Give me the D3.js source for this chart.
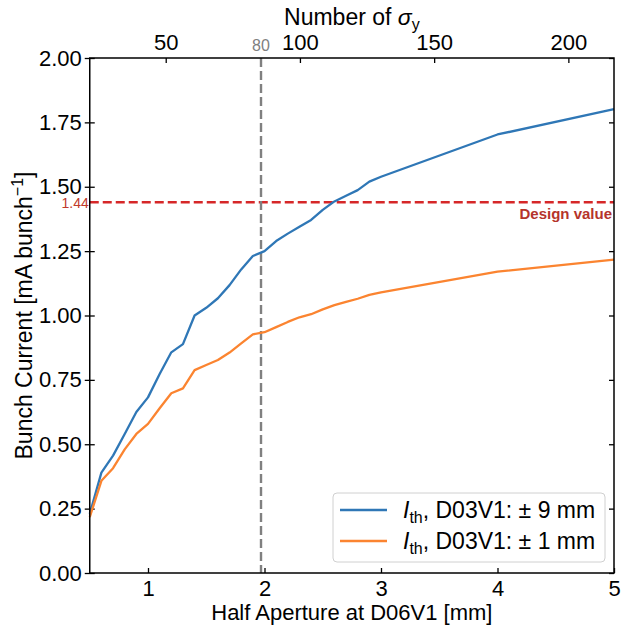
<!DOCTYPE html>
<html>
<head>
<meta charset="utf-8">
<script src="https://cdn.jsdelivr.net/npm/d3@7"></script>
<style>
  body { margin: 0; background: #fff; }
  svg { display: block; font-family: "Liberation Sans", Arial, sans-serif; }
  .tick text { font-size: 22px; fill: #000; }
  .axis path, .axis line { stroke: #000; }
</style>
</head>
<body>
<div id="chart"></div>
<script>
'use strict';

// half aperture at D06V1 [mm]
var aperture = [0.5, 0.6, 0.7, 0.8, 0.9, 1.0, 1.1, 1.2, 1.3, 1.4, 1.5, 1.6, 1.7, 1.8, 1.9,
  2.0, 2.1, 2.2, 2.3, 2.4, 2.5, 2.6, 2.7, 2.8, 2.9, 3.0, 4.0, 5.0];
// threshold current, D03V1 +-9 mm
var ith9 = [0.23, 0.39, 0.456, 0.54, 0.625, 0.682, 0.773, 0.857, 0.889, 1.000, 1.030, 1.067, 1.118,
  1.179, 1.231, 1.250, 1.289, 1.318, 1.345, 1.371, 1.410, 1.443, 1.465, 1.487, 1.520, 1.539, 1.703, 1.801];
// threshold current, D03V1 +-1 mm
var ith1 = [0.217, 0.358, 0.407, 0.480, 0.540, 0.579, 0.640, 0.698, 0.717, 0.788, 0.808, 0.827, 0.856,
  0.892, 0.927, 0.935, 0.955, 0.975, 0.993, 1.005, 1.024, 1.040, 1.053, 1.065, 1.080, 1.090, 1.170, 1.217];

var seriesNames = ["± 9 mm", "± 1 mm"];
var xTicks = [1, 2, 3, 4, 5];
var yTicks = [0, 0.25, 0.5, 0.75, 1.0, 1.25, 1.5, 1.75, 2.0];
var sigmaTicks = [50, 100, 150, 200];
var sigmaPerMm = 43.4;      // number of sigma_y per mm of half aperture
var designValue = 1.44;
var markAperture = 1.97;    // vertical marker
var markLabel = "80";

var margin = { top: 58, right: 7, bottom: 54, left: 89.75 },
  width = 621 - margin.left - margin.right,
  height = 627 - margin.top - margin.bottom;

var colors = ["#2f77b6", "#fb8430"];

var svg = d3.select("#chart").append("svg")
  .attr("width", 621)
  .attr("height", 627);

var g = svg.append("g")
  .attr("transform", "translate(" + margin.left + "," + margin.top + ")");

var x = d3.scaleLinear().domain([0.5, 5]).range([0, width]);
var y = d3.scaleLinear().domain([0, 2]).range([height, 0]);
var xTop = d3.scaleLinear().domain([0.5 * sigmaPerMm, 5 * sigmaPerMm]).range([0, width]);

// axes
g.append("g")
  .attr("class", "axis")
  .attr("transform", "translate(0," + height + ")")
  .call(d3.axisBottom(x).tickValues(xTicks).tickFormat(d3.format("d")).tickSizeInner(-5).tickSizeOuter(0).tickPadding(7));

g.append("g")
  .attr("class", "axis")
  .call(d3.axisLeft(y).tickValues(yTicks).tickFormat(d3.format(".2f")).tickSizeInner(5).tickSizeOuter(0).tickPadding(3))
  .selectAll(".tick line").attr("x2", 5).attr("x1", -5);

g.append("g")
  .attr("class", "axis")
  .attr("transform", "translate(" + width + ",0)")
  .call(d3.axisRight(y).tickValues(yTicks).tickFormat("").tickSizeInner(-5).tickSizeOuter(0));

g.append("g")
  .attr("class", "axis")
  .call(d3.axisTop(xTop).tickValues(sigmaTicks).tickSizeInner(-5).tickSizeOuter(0).tickPadding(8));

g.selectAll(".axis .domain").remove();
g.selectAll(".axis .tick line").attr("stroke-width", 1.3);

// design value line
g.append("line")
  .attr("x1", 0).attr("x2", width)
  .attr("y1", y(designValue)).attr("y2", y(designValue))
  .attr("stroke", "#d62728")
  .attr("stroke-width", 2.4)
  .attr("stroke-dasharray", "9,4");

g.append("text")
  .attr("x", -1)
  .attr("y", y(designValue) + 1)
  .attr("dy", "0.35em")
  .attr("text-anchor", "end")
  .attr("fill", "#c0392b")
  .style("font-size", "14px")
  .text(d3.format(".2f")(designValue));

g.append("text")
  .attr("x", width - 2)
  .attr("y", y(designValue) + 17)
  .attr("text-anchor", "end")
  .attr("fill", "#b5342b")
  .style("font-size", "15px")
  .style("font-weight", "bold")
  .text("Design value");

// vertical marker
g.append("line")
  .attr("x1", x(markAperture)).attr("x2", x(markAperture))
  .attr("y1", 0).attr("y2", height)
  .attr("stroke", "#808080")
  .attr("stroke-width", 2.4)
  .attr("stroke-dasharray", "9,4");

g.append("text")
  .attr("x", x(markAperture))
  .attr("y", -7)
  .attr("text-anchor", "middle")
  .attr("fill", "#808080")
  .style("font-size", "16px")
  .text(markLabel);

// curves
var line = d3.line()
  .x(function (d) { return x(d[0]); })
  .y(function (d) { return y(d[1]); });

[ith9, ith1].forEach(function (vals, i) {
  g.append("path")
    .datum(aperture.map(function (a, j) { return [a, vals[j]]; }))
    .attr("fill", "none")
    .attr("stroke", colors[i])
    .attr("stroke-width", 2.3)
    .attr("stroke-linejoin", "round")
    .attr("d", line);
});

// frame
g.append("rect")
  .attr("width", width).attr("height", height)
  .attr("fill", "none")
  .attr("stroke", "#000")
  .attr("stroke-width", 1.5);

// axis titles
svg.append("text")
  .attr("x", margin.left + width / 2)
  .attr("y", 620)
  .attr("text-anchor", "middle")
  .style("font-size", "22px")
  .text("Half Aperture at D06V1 [mm]");

var yl = svg.append("text")
  .attr("transform", "translate(32," + (margin.top + height / 2) + ") rotate(-90)")
  .attr("text-anchor", "middle")
  .style("font-size", "23px");
yl.append("tspan").text("Bunch Current [mA bunch");
yl.append("tspan").attr("dy", -9).style("font-size", "16px").text("−1");
yl.append("tspan").attr("dy", 9).text("]");

var tl = svg.append("text")
  .attr("x", margin.left + width / 2)
  .attr("y", 25)
  .attr("text-anchor", "middle")
  .style("font-size", "23px");
tl.append("tspan").text("Number of ");
tl.append("tspan").style("font-style", "italic").text("σ");
tl.append("tspan").attr("dy", 5).style("font-size", "16px").text("y");

// legend
var legend = g.append("g")
  .attr("transform", "translate(" + (333 - margin.left) + "," + (493 - margin.top) + ")");

legend.append("rect")
  .attr("width", 272).attr("height", 69)
  .attr("rx", 4)
  .attr("fill", "#fff")
  .attr("fill-opacity", 0.8)
  .attr("stroke", "#d0d0d0");

seriesNames.forEach(function (name, i) {
  var row = legend.append("g").attr("transform", "translate(0," + (17 + i * 31) + ")");
  row.append("line")
    .attr("x1", 7).attr("x2", 54)
    .attr("stroke", colors[i])
    .attr("stroke-width", 2.3);
  var t = row.append("text")
    .attr("x", 70)
    .attr("y", 8)
    .style("font-size", "23px");
  t.append("tspan").style("font-style", "italic").text("I");
  t.append("tspan").attr("dy", 5).style("font-size", "16px").text("th");
  t.append("tspan").attr("dy", -5).text(", D03V1: " + name);
});
</script>
</body>
</html>
